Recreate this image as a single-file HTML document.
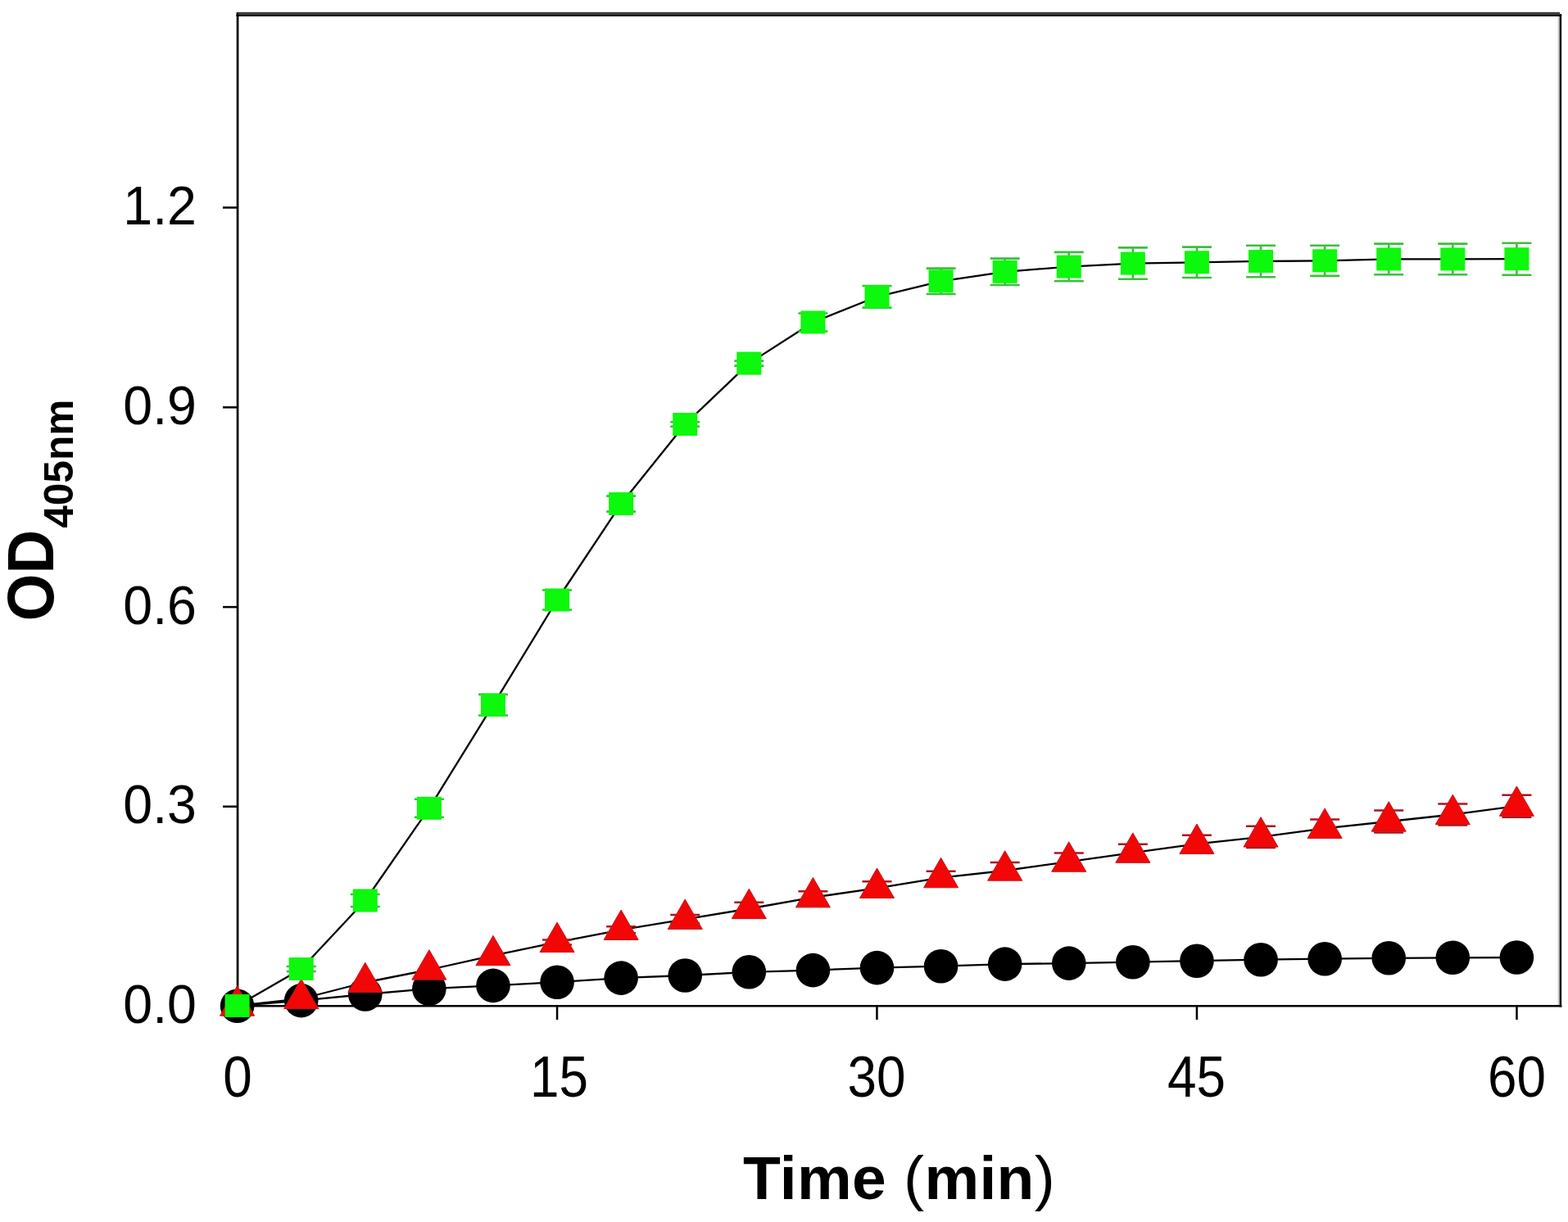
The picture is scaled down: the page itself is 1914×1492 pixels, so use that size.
<!DOCTYPE html>
<html><head><meta charset="utf-8"><title>OD405nm vs Time</title>
<style>html,body{margin:0;padding:0;background:#fff;overflow:hidden}svg{display:block}</style>
</head><body>
<svg width="1914" height="1492" viewBox="0 0 1914 1492"><rect x="0" y="0" width="1914" height="1492" fill="#fff"/>
<rect x="288.7" y="15" width="2.7" height="1214.5" fill="#000"/>
<rect x="288.4" y="1227" width="1618" height="2.5" fill="#000"/>
<rect x="1901.5" y="20" width="1.8" height="1207" fill="#cfcfcf"/>
<rect x="1903.6" y="17" width="2.5" height="1212.5" fill="#000"/>
<rect x="290.5" y="14.8" width="1613.5" height="2.8" fill="#3a3a3a"/>
<rect x="288.4" y="17.5" width="1617.7" height="2.5" fill="#000"/>
<rect x="272" y="252.2" width="17" height="2.5" fill="#000"/>
<rect x="272" y="496.1" width="17" height="2.5" fill="#000"/>
<rect x="272" y="739.9" width="17" height="2.5" fill="#000"/>
<rect x="272" y="983.5" width="17" height="2.5" fill="#000"/>
<rect x="272" y="1227.3" width="17" height="2.5" fill="#000"/>
<rect x="288.4" y="1228" width="2.5" height="17" fill="#000"/>
<rect x="678.8" y="1228" width="2.5" height="17" fill="#000"/>
<rect x="1069.2" y="1228" width="2.5" height="17" fill="#000"/>
<rect x="1459.7" y="1228" width="2.5" height="17" fill="#000"/>
<rect x="1850.2" y="1228" width="2.5" height="17" fill="#000"/>
<polyline points="289.60,1228.20 367.69,1221.60 445.78,1214.00 523.87,1207.20 601.96,1203.40 680.05,1199.20 758.14,1194.10 836.23,1191.00 914.32,1186.80 992.41,1184.60 1070.50,1181.60 1148.59,1179.70 1226.68,1177.10 1304.77,1176.10 1382.86,1174.70 1460.95,1173.20 1539.04,1171.70 1617.13,1170.70 1695.22,1169.80 1773.31,1169.30 1851.40,1169.00" fill="none" stroke="#000" stroke-width="2.3" stroke-linejoin="round"/>
<circle cx="289.60" cy="1228.20" r="20.8" fill="#000"/>
<circle cx="367.69" cy="1221.60" r="20.8" fill="#000"/>
<circle cx="445.78" cy="1214.00" r="20.8" fill="#000"/>
<circle cx="523.87" cy="1207.20" r="20.8" fill="#000"/>
<circle cx="601.96" cy="1203.40" r="20.8" fill="#000"/>
<circle cx="680.05" cy="1199.20" r="20.8" fill="#000"/>
<circle cx="758.14" cy="1194.10" r="20.8" fill="#000"/>
<circle cx="836.23" cy="1191.00" r="20.8" fill="#000"/>
<circle cx="914.32" cy="1186.80" r="20.8" fill="#000"/>
<circle cx="992.41" cy="1184.60" r="20.8" fill="#000"/>
<circle cx="1070.50" cy="1181.60" r="20.8" fill="#000"/>
<circle cx="1148.59" cy="1179.70" r="20.8" fill="#000"/>
<circle cx="1226.68" cy="1177.10" r="20.8" fill="#000"/>
<circle cx="1304.77" cy="1176.10" r="20.8" fill="#000"/>
<circle cx="1382.86" cy="1174.70" r="20.8" fill="#000"/>
<circle cx="1460.95" cy="1173.20" r="20.8" fill="#000"/>
<circle cx="1539.04" cy="1171.70" r="20.8" fill="#000"/>
<circle cx="1617.13" cy="1170.70" r="20.8" fill="#000"/>
<circle cx="1695.22" cy="1169.80" r="20.8" fill="#000"/>
<circle cx="1773.31" cy="1169.30" r="20.8" fill="#000"/>
<circle cx="1851.40" cy="1169.00" r="20.8" fill="#000"/>
<polyline points="289.60,1228.00 367.69,1219.50 445.78,1199.50 523.87,1184.00 601.96,1166.60 680.05,1150.40 758.14,1135.30 836.23,1122.30 914.32,1109.50 992.41,1095.70 1070.50,1084.30 1148.59,1071.60 1226.68,1063.00 1304.77,1052.10 1382.86,1041.20 1460.95,1030.30 1539.04,1021.90 1617.13,1011.30 1695.22,1003.00 1773.31,994.50 1851.40,984.20" fill="none" stroke="#000" stroke-width="2.3" stroke-linejoin="round"/>
<path d="M680.05,1147.40 V1153.40 M662.05,1147.40 H698.05 M662.05,1153.40 H698.05" stroke="#a8161c" stroke-width="2.5" fill="none"/>
<path d="M758.14,1131.30 V1139.30 M740.14,1131.30 H776.14 M740.14,1139.30 H776.14" stroke="#a8161c" stroke-width="2.5" fill="none"/>
<path d="M836.23,1117.00 V1127.60 M818.23,1117.00 H854.23 M818.23,1127.60 H854.23" stroke="#a8161c" stroke-width="2.5" fill="none"/>
<path d="M914.32,1101.70 V1117.30 M896.32,1101.70 H932.32 M896.32,1117.30 H932.32" stroke="#a8161c" stroke-width="2.5" fill="none"/>
<path d="M992.41,1088.20 V1103.20 M974.41,1088.20 H1010.41 M974.41,1103.20 H1010.41" stroke="#a8161c" stroke-width="2.5" fill="none"/>
<path d="M1070.50,1076.30 V1092.30 M1052.50,1076.30 H1088.50 M1052.50,1092.30 H1088.50" stroke="#a8161c" stroke-width="2.5" fill="none"/>
<path d="M1148.59,1063.80 V1079.40 M1130.59,1063.80 H1166.59 M1130.59,1079.40 H1166.59" stroke="#a8161c" stroke-width="2.5" fill="none"/>
<path d="M1226.68,1052.90 V1073.10 M1208.68,1052.90 H1244.68 M1208.68,1073.10 H1244.68" stroke="#a8161c" stroke-width="2.5" fill="none"/>
<path d="M1304.77,1041.60 V1062.60 M1286.77,1041.60 H1322.77 M1286.77,1062.60 H1322.77" stroke="#a8161c" stroke-width="2.5" fill="none"/>
<path d="M1382.86,1030.70 V1051.70 M1364.86,1030.70 H1400.86 M1364.86,1051.70 H1400.86" stroke="#a8161c" stroke-width="2.5" fill="none"/>
<path d="M1460.95,1019.70 V1040.90 M1442.95,1019.70 H1478.95 M1442.95,1040.90 H1478.95" stroke="#a8161c" stroke-width="2.5" fill="none"/>
<path d="M1539.04,1008.80 V1035.00 M1521.04,1008.80 H1557.04 M1521.04,1035.00 H1557.04" stroke="#a8161c" stroke-width="2.5" fill="none"/>
<path d="M1617.13,1000.40 V1022.20 M1599.13,1000.40 H1635.13 M1599.13,1022.20 H1635.13" stroke="#a8161c" stroke-width="2.5" fill="none"/>
<path d="M1695.22,989.50 V1016.50 M1677.22,989.50 H1713.22 M1677.22,1016.50 H1713.22" stroke="#a8161c" stroke-width="2.5" fill="none"/>
<path d="M1773.31,981.60 V1007.40 M1755.31,981.60 H1791.31 M1755.31,1007.40 H1791.31" stroke="#a8161c" stroke-width="2.5" fill="none"/>
<path d="M1851.40,970.70 V997.70 M1833.40,970.70 H1869.40 M1833.40,997.70 H1869.40" stroke="#a8161c" stroke-width="2.5" fill="none"/>
<polygon points="289.60,1203.70 268.56,1240.15 310.64,1240.15" fill="#f20606" stroke="#c4161c" stroke-width="1"/>
<polygon points="367.69,1195.20 346.65,1231.65 388.73,1231.65" fill="#f20606" stroke="#c4161c" stroke-width="1"/>
<polygon points="445.78,1175.20 424.74,1211.65 466.82,1211.65" fill="#f20606" stroke="#c4161c" stroke-width="1"/>
<polygon points="523.87,1159.70 502.83,1196.15 544.91,1196.15" fill="#f20606" stroke="#c4161c" stroke-width="1"/>
<polygon points="601.96,1142.30 580.92,1178.75 623.00,1178.75" fill="#f20606" stroke="#c4161c" stroke-width="1"/>
<polygon points="680.05,1126.10 659.01,1162.55 701.09,1162.55" fill="#f20606" stroke="#c4161c" stroke-width="1"/>
<polygon points="758.14,1111.00 737.10,1147.45 779.18,1147.45" fill="#f20606" stroke="#c4161c" stroke-width="1"/>
<polygon points="836.23,1098.00 815.19,1134.45 857.27,1134.45" fill="#f20606" stroke="#c4161c" stroke-width="1"/>
<polygon points="914.32,1085.20 893.28,1121.65 935.36,1121.65" fill="#f20606" stroke="#c4161c" stroke-width="1"/>
<polygon points="992.41,1071.40 971.37,1107.85 1013.45,1107.85" fill="#f20606" stroke="#c4161c" stroke-width="1"/>
<polygon points="1070.50,1060.00 1049.46,1096.45 1091.54,1096.45" fill="#f20606" stroke="#c4161c" stroke-width="1"/>
<polygon points="1148.59,1047.30 1127.55,1083.75 1169.63,1083.75" fill="#f20606" stroke="#c4161c" stroke-width="1"/>
<polygon points="1226.68,1038.70 1205.64,1075.15 1247.72,1075.15" fill="#f20606" stroke="#c4161c" stroke-width="1"/>
<polygon points="1304.77,1027.80 1283.73,1064.25 1325.81,1064.25" fill="#f20606" stroke="#c4161c" stroke-width="1"/>
<polygon points="1382.86,1016.90 1361.82,1053.35 1403.90,1053.35" fill="#f20606" stroke="#c4161c" stroke-width="1"/>
<polygon points="1460.95,1006.00 1439.91,1042.45 1481.99,1042.45" fill="#f20606" stroke="#c4161c" stroke-width="1"/>
<polygon points="1539.04,997.60 1518.00,1034.05 1560.08,1034.05" fill="#f20606" stroke="#c4161c" stroke-width="1"/>
<polygon points="1617.13,987.00 1596.09,1023.45 1638.17,1023.45" fill="#f20606" stroke="#c4161c" stroke-width="1"/>
<polygon points="1695.22,978.70 1674.18,1015.15 1716.26,1015.15" fill="#f20606" stroke="#c4161c" stroke-width="1"/>
<polygon points="1773.31,970.20 1752.27,1006.65 1794.35,1006.65" fill="#f20606" stroke="#c4161c" stroke-width="1"/>
<polygon points="1851.40,959.90 1830.36,996.35 1872.44,996.35" fill="#f20606" stroke="#c4161c" stroke-width="1"/>
<polyline points="289.60,1228.00 367.69,1183.00 445.78,1099.50 523.87,986.80 601.96,860.70 680.05,732.50 758.14,615.10 836.23,518.00 914.32,443.60 992.41,393.50 1070.50,362.30 1148.59,343.30 1226.68,331.80 1304.77,325.60 1382.86,321.60 1460.95,320.30 1539.04,319.00 1617.13,318.30 1695.22,316.40 1773.31,316.40 1851.40,316.20" fill="none" stroke="#000" stroke-width="2.3" stroke-linejoin="round"/>
<path d="M367.69,1180.00 V1186.00 M349.69,1180.00 H385.69 M349.69,1186.00 H385.69" stroke="#3cbf3c" stroke-width="2.6" fill="none"/>
<path d="M445.78,1092.00 V1107.00 M427.78,1092.00 H463.78 M427.78,1107.00 H463.78" stroke="#3cbf3c" stroke-width="2.6" fill="none"/>
<path d="M523.87,975.80 V997.80 M505.87,975.80 H541.87 M505.87,997.80 H541.87" stroke="#3cbf3c" stroke-width="2.6" fill="none"/>
<path d="M601.96,847.90 V873.50 M583.96,847.90 H619.96 M583.96,873.50 H619.96" stroke="#3cbf3c" stroke-width="2.6" fill="none"/>
<path d="M680.05,720.50 V744.50 M662.05,720.50 H698.05 M662.05,744.50 H698.05" stroke="#3cbf3c" stroke-width="2.6" fill="none"/>
<path d="M758.14,605.60 V624.60 M740.14,605.60 H776.14 M740.14,624.60 H776.14" stroke="#3cbf3c" stroke-width="2.6" fill="none"/>
<path d="M836.23,515.20 V520.80 M818.23,515.20 H854.23 M818.23,520.80 H854.23" stroke="#3cbf3c" stroke-width="2.6" fill="none"/>
<path d="M914.32,440.60 V446.60 M896.32,440.60 H932.32 M896.32,446.60 H932.32" stroke="#3cbf3c" stroke-width="2.6" fill="none"/>
<path d="M992.41,382.50 V404.50 M974.41,382.50 H1010.41 M974.41,404.50 H1010.41" stroke="#3cbf3c" stroke-width="2.6" fill="none"/>
<path d="M1070.50,349.00 V375.60 M1052.50,349.00 H1088.50 M1052.50,375.60 H1088.50" stroke="#3cbf3c" stroke-width="2.6" fill="none"/>
<path d="M1148.59,327.60 V359.00 M1130.59,327.60 H1166.59 M1130.59,359.00 H1166.59" stroke="#3cbf3c" stroke-width="2.6" fill="none"/>
<path d="M1226.68,315.60 V348.00 M1208.68,315.60 H1244.68 M1208.68,348.00 H1244.68" stroke="#3cbf3c" stroke-width="2.6" fill="none"/>
<path d="M1304.77,307.90 V343.30 M1286.77,307.90 H1322.77 M1286.77,343.30 H1322.77" stroke="#3cbf3c" stroke-width="2.6" fill="none"/>
<path d="M1382.86,302.40 V340.80 M1364.86,302.40 H1400.86 M1364.86,340.80 H1400.86" stroke="#3cbf3c" stroke-width="2.6" fill="none"/>
<path d="M1460.95,301.60 V339.00 M1442.95,301.60 H1478.95 M1442.95,339.00 H1478.95" stroke="#3cbf3c" stroke-width="2.6" fill="none"/>
<path d="M1539.04,299.80 V338.20 M1521.04,299.80 H1557.04 M1521.04,338.20 H1557.04" stroke="#3cbf3c" stroke-width="2.6" fill="none"/>
<path d="M1617.13,299.70 V336.90 M1599.13,299.70 H1635.13 M1599.13,336.90 H1635.13" stroke="#3cbf3c" stroke-width="2.6" fill="none"/>
<path d="M1695.22,297.60 V335.20 M1677.22,297.60 H1713.22 M1677.22,335.20 H1713.22" stroke="#3cbf3c" stroke-width="2.6" fill="none"/>
<path d="M1773.31,297.60 V335.20 M1755.31,297.60 H1791.31 M1755.31,335.20 H1791.31" stroke="#3cbf3c" stroke-width="2.6" fill="none"/>
<path d="M1851.40,296.70 V335.70 M1833.40,296.70 H1869.40 M1833.40,335.70 H1869.40" stroke="#3cbf3c" stroke-width="2.6" fill="none"/>
<rect x="274.60" y="1214.00" width="30" height="28" fill="#0cf80c"/>
<rect x="352.69" y="1169.00" width="30" height="28" fill="#0cf80c"/>
<rect x="430.78" y="1085.50" width="30" height="28" fill="#0cf80c"/>
<rect x="508.87" y="972.80" width="30" height="28" fill="#0cf80c"/>
<rect x="586.96" y="846.70" width="30" height="28" fill="#0cf80c"/>
<rect x="665.05" y="718.50" width="30" height="28" fill="#0cf80c"/>
<rect x="743.14" y="601.10" width="30" height="28" fill="#0cf80c"/>
<rect x="821.23" y="504.00" width="30" height="28" fill="#0cf80c"/>
<rect x="899.32" y="429.60" width="30" height="28" fill="#0cf80c"/>
<rect x="977.41" y="379.50" width="30" height="28" fill="#0cf80c"/>
<rect x="1055.50" y="348.30" width="30" height="28" fill="#0cf80c"/>
<rect x="1133.59" y="329.30" width="30" height="28" fill="#0cf80c"/>
<rect x="1211.68" y="317.80" width="30" height="28" fill="#0cf80c"/>
<rect x="1289.77" y="311.60" width="30" height="28" fill="#0cf80c"/>
<rect x="1367.86" y="307.60" width="30" height="28" fill="#0cf80c"/>
<rect x="1445.95" y="306.30" width="30" height="28" fill="#0cf80c"/>
<rect x="1524.04" y="305.00" width="30" height="28" fill="#0cf80c"/>
<rect x="1602.13" y="304.30" width="30" height="28" fill="#0cf80c"/>
<rect x="1680.22" y="302.40" width="30" height="28" fill="#0cf80c"/>
<rect x="1758.31" y="302.40" width="30" height="28" fill="#0cf80c"/>
<rect x="1836.40" y="302.20" width="30" height="28" fill="#0cf80c"/>
<text transform="translate(240,1249.10) scale(1,1.033)" text-anchor="end" style="font-family:'Liberation Sans',Arial,sans-serif;font-size:64.5px">0.0</text>
<text transform="translate(240,1005.30) scale(1,1.033)" text-anchor="end" style="font-family:'Liberation Sans',Arial,sans-serif;font-size:64.5px">0.3</text>
<text transform="translate(240,761.60) scale(1,1.033)" text-anchor="end" style="font-family:'Liberation Sans',Arial,sans-serif;font-size:64.5px">0.6</text>
<text transform="translate(240,517.80) scale(1,1.033)" text-anchor="end" style="font-family:'Liberation Sans',Arial,sans-serif;font-size:64.5px">0.9</text>
<text transform="translate(240,274.00) scale(1,1.033)" text-anchor="end" style="font-family:'Liberation Sans',Arial,sans-serif;font-size:64.5px">1.2</text>
<text transform="translate(289.90,1338.5) scale(0.99,1.105)" text-anchor="middle" style="font-family:'Liberation Sans',Arial,sans-serif;font-size:64.5px">0</text>
<text transform="translate(682.50,1338.5) scale(0.99,1.105)" text-anchor="middle" style="font-family:'Liberation Sans',Arial,sans-serif;font-size:64.5px">15</text>
<text transform="translate(1069.90,1338.5) scale(0.99,1.105)" text-anchor="middle" style="font-family:'Liberation Sans',Arial,sans-serif;font-size:64.5px">30</text>
<text transform="translate(1460.50,1338.5) scale(0.99,1.105)" text-anchor="middle" style="font-family:'Liberation Sans',Arial,sans-serif;font-size:64.5px">45</text>
<text transform="translate(1851.50,1338.5) scale(0.99,1.105)" text-anchor="middle" style="font-family:'Liberation Sans',Arial,sans-serif;font-size:64.5px">60</text>
<text x="1097.5" y="1464" text-anchor="middle" style="font-family:'Liberation Sans',Arial,sans-serif;font-size:75px;font-weight:bold;letter-spacing:0.3px">Time <tspan style="font-weight:normal">(</tspan>min<tspan style="font-weight:normal">)</tspan></text>
<text transform="translate(64.7,702.5) rotate(-90) scale(0.99,1.05)" text-anchor="middle" style="font-family:'Liberation Sans',Arial,sans-serif;font-size:75px;font-weight:bold">OD</text>
<text transform="translate(89.1,644.7) rotate(-90)" text-anchor="start" style="font-family:'Liberation Sans',Arial,sans-serif;font-size:49.5px;font-weight:bold">405nm</text></svg>
</body></html>
